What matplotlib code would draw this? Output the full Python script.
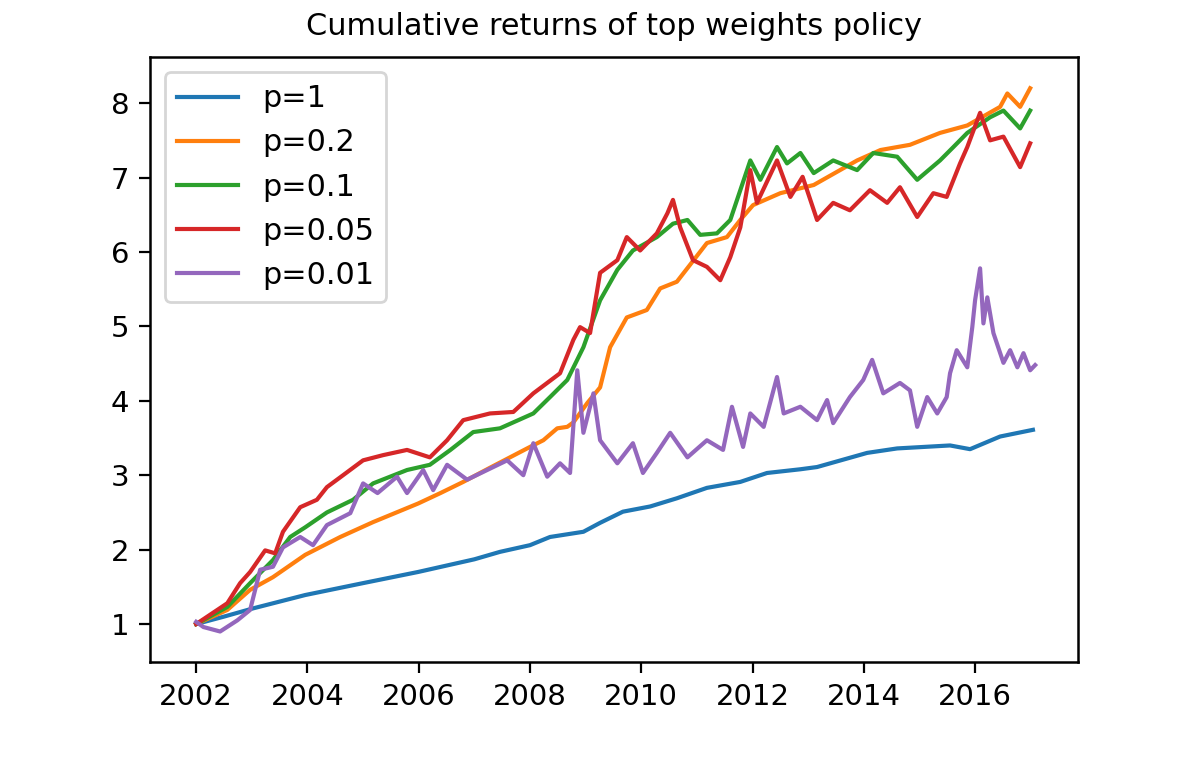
import matplotlib
matplotlib.use("Agg")
import matplotlib.pyplot as plt
from matplotlib.ticker import MultipleLocator

title = "Cumulative returns of top weights policy"
labels = ["p=1", "p=0.2", "p=0.1", "p=0.05", "p=0.01"]

t_p1 = [2002.0, 2002.5, 2003.02, 2003.96, 2005.0, 2005.99, 2007.0, 2007.46, 2008.0,
        2008.36, 2008.96, 2009.26, 2009.67, 2010.16, 2010.64, 2011.18, 2011.78, 2012.26,
        2012.86, 2013.16, 2014.06, 2014.6, 2015.55, 2015.91, 2016.45, 2017.04]
v_p1 = [1.0, 1.1, 1.21, 1.39, 1.55, 1.70, 1.87, 1.97, 2.06,
        2.17, 2.24, 2.36, 2.51, 2.58, 2.69, 2.83, 2.91, 3.03,
        3.08, 3.11, 3.30, 3.36, 3.40, 3.35, 3.52, 3.61]

t_p02 = [2002.0, 2002.56, 2002.97, 2003.38, 2003.96, 2004.59, 2005.18, 2005.99, 2006.39,
         2006.8, 2007.28, 2008.0, 2008.24, 2008.49, 2008.67, 2008.78, 2009.03, 2009.26,
         2009.44, 2009.74, 2010.1, 2010.34, 2010.64, 2010.9, 2011.18, 2011.54, 2011.78,
         2012.01, 2012.5, 2013.1, 2013.88, 2014.3, 2014.83, 2015.37, 2015.86, 2016.45,
         2016.58, 2016.81, 2016.99]
v_p02 = [1.0, 1.19, 1.46, 1.63, 1.93, 2.17, 2.37, 2.62, 2.76,
         2.91, 3.10, 3.38, 3.47, 3.63, 3.65, 3.71, 3.97, 4.18,
         4.72, 5.12, 5.22, 5.51, 5.60, 5.85, 6.12, 6.20, 6.43,
         6.63, 6.79, 6.90, 7.23, 7.37, 7.44, 7.60, 7.70, 7.95,
         8.13, 7.95, 8.20]

t_p01 = [2002.0, 2002.56, 2002.97, 2003.38, 2003.69, 2003.96, 2004.35, 2004.82, 2005.18,
         2005.79, 2006.2, 2006.57, 2006.98, 2007.46, 2008.06, 2008.36, 2008.67, 2008.96,
         2009.26, 2009.57, 2009.85, 2010.28, 2010.57, 2010.83, 2011.06, 2011.36, 2011.6,
         2011.96, 2012.14, 2012.44, 2012.62, 2012.86, 2013.1, 2013.45, 2013.88, 2014.17,
         2014.6, 2014.96, 2015.37, 2015.61, 2015.86, 2016.27, 2016.51, 2016.81, 2016.99]
v_p01 = [1.0, 1.23, 1.55, 1.86, 2.17, 2.30, 2.50, 2.67, 2.89,
         3.07, 3.14, 3.34, 3.58, 3.63, 3.83, 4.05, 4.28, 4.72,
         5.35, 5.76, 6.02, 6.20, 6.38, 6.43, 6.23, 6.25, 6.43,
         7.23, 6.97, 7.41, 7.19, 7.33, 7.06, 7.23, 7.10, 7.33,
         7.28, 6.97, 7.23, 7.41, 7.60, 7.81, 7.90, 7.66, 7.90]

t_p005 = [2002.0, 2002.56, 2002.79, 2002.97, 2003.24, 2003.42, 2003.56, 2003.87, 2004.17,
          2004.35, 2004.64, 2005.0, 2005.36, 2005.79, 2006.2, 2006.51, 2006.8, 2007.28,
          2007.7, 2008.06, 2008.54, 2008.78, 2008.9, 2009.08, 2009.26, 2009.57, 2009.74,
          2009.98, 2010.28, 2010.47, 2010.57, 2010.7, 2010.93, 2011.18, 2011.42, 2011.6,
          2011.78, 2011.96, 2012.08, 2012.44, 2012.68, 2012.9, 2013.16, 2013.45, 2013.75,
          2014.11, 2014.42, 2014.65, 2014.96, 2015.25, 2015.49, 2015.73, 2015.86, 2016.09,
          2016.27, 2016.51, 2016.81, 2016.99]
v_p005 = [1.0, 1.28, 1.55, 1.70, 1.99, 1.95, 2.24, 2.57, 2.67,
          2.84, 3.00, 3.20, 3.27, 3.34, 3.24, 3.47, 3.74, 3.83,
          3.85, 4.10, 4.37, 4.82, 4.99, 4.91, 5.72, 5.89, 6.20,
          6.02, 6.25, 6.52, 6.70, 6.33, 5.89, 5.80, 5.62, 5.93,
          6.33, 7.10, 6.66, 7.23, 6.74, 7.01, 6.43, 6.66, 6.56,
          6.83, 6.66, 6.87, 6.47, 6.79, 6.74, 7.19, 7.41, 7.87,
          7.50, 7.55, 7.14, 7.46]

t_p001 = [2002.0, 2002.13, 2002.43, 2002.74, 2002.97, 2003.15, 2003.38, 2003.56, 2003.87,
          2004.1, 2004.35, 2004.77, 2005.0, 2005.26, 2005.61, 2005.79, 2006.08, 2006.26,
          2006.51, 2006.87, 2007.23, 2007.59, 2007.88, 2008.06, 2008.31, 2008.54, 2008.72,
          2008.85, 2008.96, 2009.14, 2009.26, 2009.57, 2009.85, 2010.03, 2010.28, 2010.52,
          2010.83, 2011.18, 2011.47, 2011.63, 2011.83, 2011.96, 2012.2, 2012.44, 2012.56,
          2012.86, 2013.16, 2013.34, 2013.45, 2013.75, 2013.99, 2014.15, 2014.35, 2014.65,
          2014.83, 2014.96, 2015.14, 2015.32, 2015.49, 2015.55, 2015.67, 2015.86, 2015.95,
          2016.0, 2016.09, 2016.15, 2016.22, 2016.33, 2016.51, 2016.63, 2016.76, 2016.87,
          2016.99, 2017.08]
v_p001 = [1.03, 0.96, 0.90, 1.05, 1.19, 1.73, 1.77, 2.03, 2.17,
          2.06, 2.33, 2.49, 2.89, 2.76, 2.98, 2.76, 3.07, 2.80,
          3.14, 2.94, 3.07, 3.20, 3.00, 3.43, 2.98, 3.16, 3.03,
          4.41, 3.57, 4.10, 3.47, 3.16, 3.43, 3.03, 3.30, 3.57,
          3.24, 3.47, 3.34, 3.92, 3.38, 3.83, 3.65, 4.32, 3.83,
          3.92, 3.74, 4.01, 3.70, 4.05, 4.28, 4.55, 4.10, 4.24,
          4.14, 3.65, 4.05, 3.83, 4.05, 4.37, 4.68, 4.45, 4.99,
          5.35, 5.78, 5.04, 5.39, 4.91, 4.51, 4.68, 4.45, 4.64,
          4.41, 4.48]

series = [(t_p1, v_p1), (t_p02, v_p02), (t_p01, v_p01), (t_p005, v_p005), (t_p001, v_p001)]

plt.rcParams["font.size"] = 10.5
plt.rcParams["axes.linewidth"] = 0.9

fig = plt.figure(figsize=(5.98, 3.81), dpi=200)
ax = fig.add_axes([150/1196, 1 - 662/762, 928/1196, 605/762])
for (t, v), lab in zip(series, labels):
    ax.plot(t, v, label=lab, linewidth=1.5)

ax.xaxis.set_major_locator(MultipleLocator(2))
ax.xaxis.set_major_formatter(plt.FuncFormatter(lambda x, p: f"{int(round(x))}"))
ax.tick_params(length=4)
ax.set_xlim(2001.17, 2017.85)
ax.set_ylim(0.49, 8.62)
ax.set_title(title, fontsize=10.9, pad=8)
ax.legend(loc="upper left", fontsize=10.9)
fig.savefig("out.png", dpi=200)
